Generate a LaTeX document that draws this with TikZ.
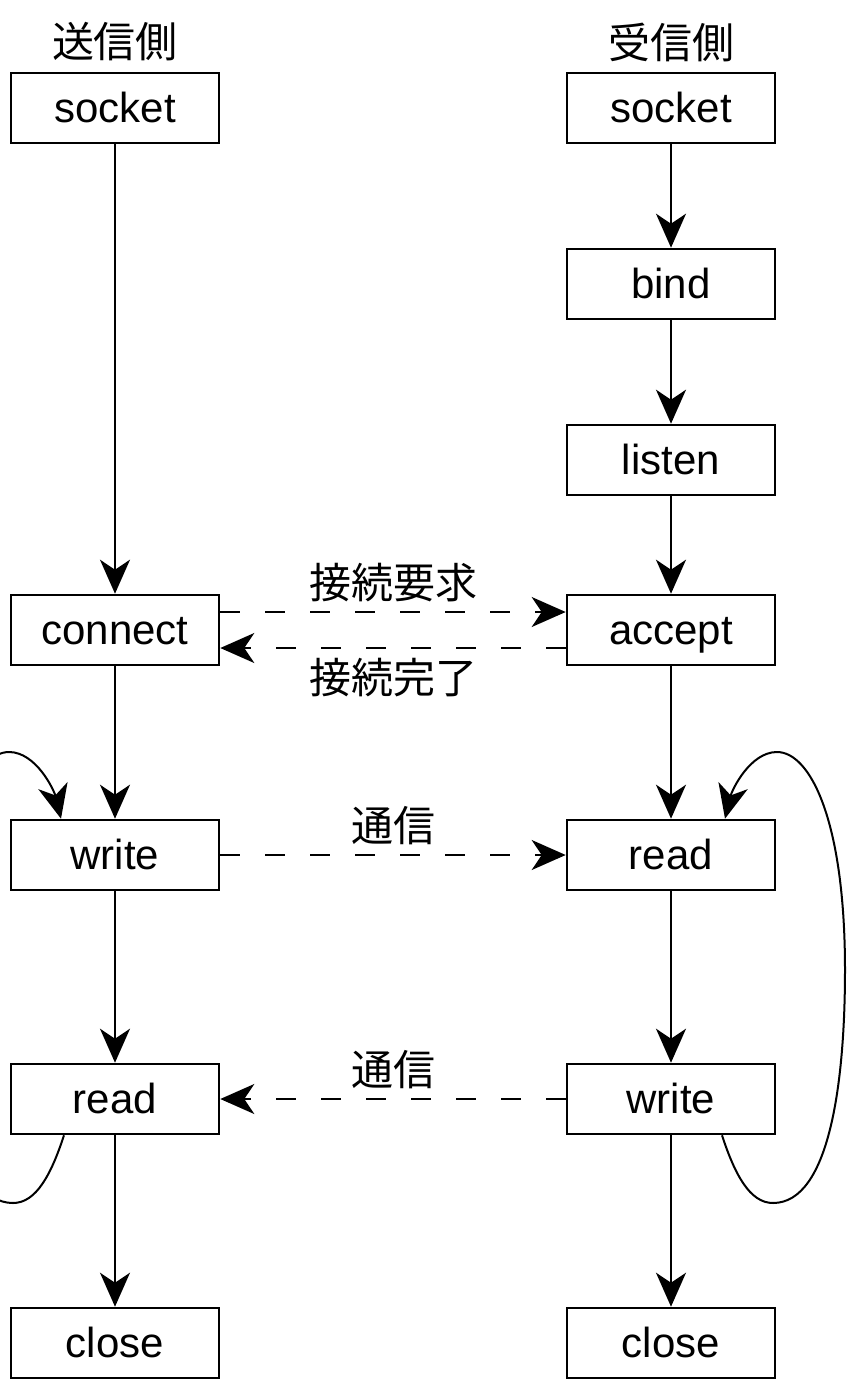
\documentclass[tikz,border=0pt]{standalone}
\usepackage{fontspec}
\setmainfont{Liberation Sans}
\newfontfamily\jp{Noto Sans CJK JP}
\usetikzlibrary{arrows.meta}

\begin{document}
\begin{tikzpicture}[x=0.5pt, y=-0.5pt,
  box/.style={draw, line width=1.3pt, minimum width=104pt, minimum height=35pt,
    inner sep=0pt, text height=14.5pt, text depth=0pt, font=\fontsize{21}{25}\selectfont},
  title/.style={font=\jp\fontsize{21}{25}\selectfont},
  msg/.style={font=\jp\fontsize{21}{25}\selectfont},
  flow/.style={line width=1pt, -{Stealth[length=17pt, width=15pt, inset=5pt]}},
  call/.style={line width=1pt, dash pattern=on 10pt off 12.5pt,
    -{Stealth[length=17pt, width=15pt, inset=5pt]}},
  loop/.style={line width=1pt, -{Stealth[length=17pt, width=15pt, inset=5pt]}}]
\useasboundingbox (0,0) rectangle (864,1388);

% sender side
\node [title] (lhead) at (115,42) {送信側};
\node [box] (lsocket)  at (115,108)  {socket};
\node [box] (lconnect) at (115,630)  {connect};
\node [box] (lwrite)   at (115,855)  {write};
\node [box] (lread)    at (115,1099) {read};
\node [box] (lclose)   at (115,1343) {close};

% receiver side
\node [title] (rhead) at (671,42) {受信側};
\node [box] (rsocket) at (671,108)  {socket};
\node [box] (rbind)   at (671,284)  {bind};
\node [box] (rlisten) at (671,460)  {listen};
\node [box] (raccept) at (671,630)  {accept};
\node [box] (rread)   at (671,855)  {read};
\node [box] (rwrite)  at (671,1099) {write};
\node [box] (rclose)  at (671,1343) {close};

% flow on each side
\draw [flow] (lsocket) -- (lconnect);
\draw [flow] (lconnect) -- (lwrite);
\draw [flow] (lwrite) -- (lread);
\draw [flow] (lread) -- (lclose);

\draw [flow] (rsocket) -- (rbind);
\draw [flow] (rbind) -- (rlisten);
\draw [flow] (rlisten) -- (raccept);
\draw [flow] (raccept) -- (rread);
\draw [flow] (rread) -- (rwrite);
\draw [flow] (rwrite) -- (rclose);

% messages between the two sides
\draw [call] ([yshift=9pt]lconnect.east) -- ([yshift=9pt]raccept.west)
  node [msg, midway, above=1pt] {接続要求};
\draw [call] ([yshift=-9pt]raccept.west) -- ([yshift=-9pt]lconnect.east)
  node [msg, midway, below=1pt] {接続完了};
\draw [call] (lwrite) -- (rread) node [msg, midway, above=1pt] {通信};
\draw [call] (rwrite) -- (lread) node [msg, midway, above=1pt] {通信};

% loops
\begin{scope}
\clip (0,0) rectangle (864,1388);
\draw [loop] ([xshift=-25.5pt]lread.south) .. controls (51,1175) and (36,1203) .. (13,1203)
  .. controls (-44,1203) and (-59,1080) .. (-59,970)
  .. controls (-59,820) and (-24,752) .. (9,752)
  .. controls (36,752) and (54,790) .. ([xshift=-27pt]lwrite.north);
\end{scope}
\draw [loop] ([xshift=25.5pt]rwrite.south) .. controls (735,1175) and (750,1203) .. (773,1203)
  .. controls (830,1203) and (845,1080) .. (845,970)
  .. controls (845,820) and (810,752) .. (777,752)
  .. controls (750,752) and (732,790) .. ([xshift=27pt]rread.north);

\end{tikzpicture}
\end{document}
